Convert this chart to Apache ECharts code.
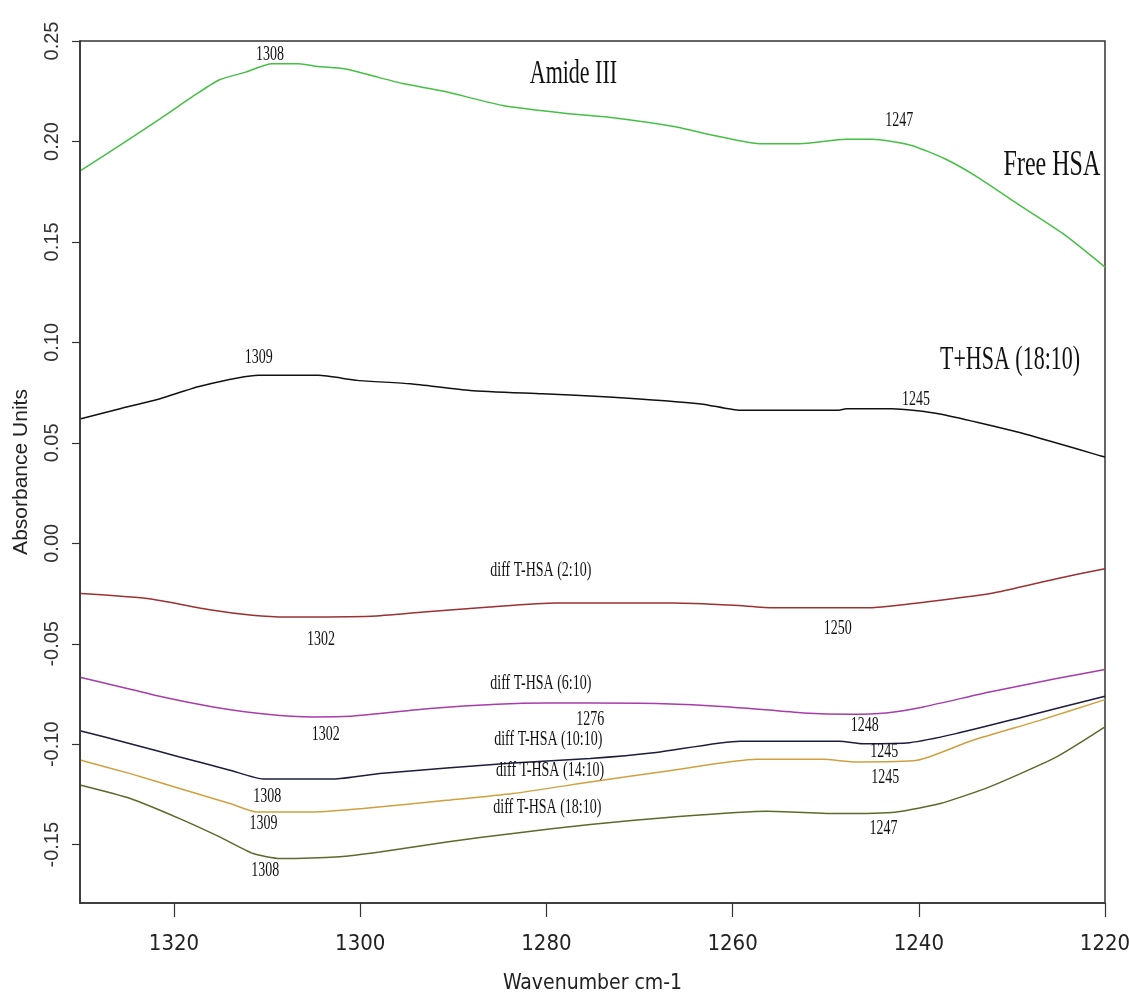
<!DOCTYPE html>
<html><head><meta charset="utf-8">
<script src="https://cdn.jsdelivr.net/npm/echarts@6/dist/echarts.min.js"></script>
<style>html,body{margin:0;padding:0;background:#fff;overflow:hidden}#c{width:1129px;height:1001px}</style>
</head><body><div id="c"></div>
<script>
// ---- Data (wavenumber cm-1, absorbance) ----
const xTicks = [1320, 1300, 1280, 1260, 1240, 1220];
const yTicks = [-0.15, -0.10, -0.05, 0.00, 0.05, 0.10, 0.15, 0.20, 0.25];

const freeHSA = [[1330.0,0.1856],[1327.2,0.1939],[1321.5,0.2113],[1317.3,0.2245],[1315.1,0.2307],[1312.3,0.2345],[1309.5,0.2387],[1306.6,0.2387],[1304.5,0.2373],[1301.7,0.2362],[1298.8,0.2328],[1295.3,0.2287],[1291.0,0.2250],[1284.7,0.2179],[1277.6,0.2138],[1273.3,0.2121],[1266.3,0.2075],[1262.0,0.2030],[1257.1,0.1989],[1252.8,0.1989],[1247.8,0.2011],[1245.0,0.2011],[1240.8,0.1980],[1237.2,0.1914],[1233.7,0.1823],[1229.4,0.1690],[1224.5,0.1541],[1220.0,0.1375]];
const tHSA1810 = [[1330.0,0.0620],[1325.8,0.0670],[1321.5,0.0720],[1317.3,0.0781],[1310.9,0.0836],[1304.5,0.0836],[1300.3,0.0811],[1294.6,0.0794],[1288.2,0.0761],[1280.4,0.0744],[1273.3,0.0728],[1263.4,0.0694],[1259.2,0.0662],[1248.6,0.0662],[1247.8,0.0670],[1242.9,0.0670],[1237.9,0.0645],[1229.4,0.0554],[1220.0,0.0429]];
const diff210 = [[1330.0,-0.0250],[1322.9,-0.0275],[1315.8,-0.0333],[1311.6,-0.0358],[1308.0,-0.0367],[1298.8,-0.0363],[1293.2,-0.0342],[1286.1,-0.0317],[1279.0,-0.0297],[1266.3,-0.0297],[1259.9,-0.0308],[1255.6,-0.0320],[1245.0,-0.0320],[1240.1,-0.0297],[1232.3,-0.0250],[1225.2,-0.0176],[1220.0,-0.0126]];
const diff610 = [[1330.0,-0.0668],[1326.5,-0.0706],[1321.2,-0.0765],[1315.8,-0.0814],[1310.0,-0.0851],[1305.0,-0.0864],[1301.1,-0.0861],[1297.9,-0.0847],[1292.5,-0.0822],[1285.3,-0.0801],[1280.0,-0.0795],[1275.3,-0.0795],[1268.2,-0.0797],[1260.3,-0.0814],[1252.4,-0.0844],[1247.4,-0.0851],[1243.5,-0.0844],[1239.5,-0.0814],[1232.4,-0.0740],[1225.2,-0.0673],[1220.0,-0.0628]];
const diff1010 = [[1330.0,-0.0934],[1324.7,-0.0997],[1319.4,-0.1063],[1314.0,-0.1129],[1310.4,-0.1173],[1302.9,-0.1173],[1297.9,-0.1146],[1290.7,-0.1118],[1283.6,-0.1093],[1275.3,-0.1071],[1268.2,-0.1041],[1259.2,-0.0985],[1248.5,-0.0985],[1246.0,-0.0997],[1241.0,-0.0992],[1236.0,-0.0947],[1228.8,-0.0864],[1220.0,-0.0761]];
const diff1410 = [[1330.0,-0.1080],[1324.7,-0.1146],[1319.4,-0.1220],[1314.0,-0.1295],[1311.1,-0.1337],[1305.0,-0.1337],[1299.7,-0.1320],[1290.7,-0.1279],[1283.6,-0.1245],[1275.3,-0.1188],[1266.4,-0.1129],[1257.4,-0.1075],[1250.3,-0.1075],[1246.7,-0.1088],[1240.2,-0.1080],[1234.2,-0.0980],[1227.0,-0.0881],[1220.0,-0.0778]];
const diff1810 = [[1330.0,-0.1204],[1324.7,-0.1270],[1319.4,-0.1370],[1315.1,-0.1461],[1311.5,-0.1544],[1308.6,-0.1569],[1302.2,-0.1560],[1297.9,-0.1536],[1290.7,-0.1486],[1283.6,-0.1444],[1275.3,-0.1399],[1266.4,-0.1362],[1256.3,-0.1333],[1248.5,-0.1345],[1242.4,-0.1337],[1237.7,-0.1295],[1232.4,-0.1212],[1225.2,-0.1063],[1220.0,-0.0914]];

// annotations: [wavenumber, absorbance, text, kind]
const annotations = [
  [1309.7, 0.2433, '1308', 'num'],
  [1277.1, 0.2333, 'Amide III', 'title'],
  [1242.1, 0.2104, '1247', 'num'],
  [1225.7, 0.1881, 'Free HSA', 'titleL'],
  [1310.9, 0.0925, '1309', 'num'],
  [1230.2, 0.0910, 'T+HSA (18:10)', 'title'],
  [1240.3, 0.0716, '1245', 'num'],
  [1280.6, -0.0134, 'diff T-HSA (2:10)', 'diff'],
  [1304.2, -0.0478, '1302', 'num'],
  [1248.7, -0.0423, '1250', 'num'],
  [1280.6, -0.0697, 'diff T-HSA (6:10)', 'diff'],
  [1303.7, -0.0950, '1302', 'num'],
  [1275.3, -0.0876, '1276', 'num'],
  [1245.8, -0.0905, '1248', 'num'],
  [1279.8, -0.0975, 'diff T-HSA (10:10)', 'diff'],
  [1310.0, -0.1259, '1308', 'num'],
  [1243.7, -0.1035, '1245', 'num'],
  [1279.6, -0.1129, 'diff T-HSA (14:10)', 'diff'],
  [1310.4, -0.1393, '1309', 'num'],
  [1243.6, -0.1164, '1245', 'num'],
  [1279.9, -0.1313, 'diff T-HSA (18:10)', 'diff'],
  [1310.2, -0.1627, '1308', 'num'],
  [1243.8, -0.1418, '1247', 'num']
];

// ---- Styles ----
const SERIF = '"Liberation Serif", "Times New Roman", serif';
const SANS = '"Liberation Sans", Arial, sans-serif';
const NARROW = '"Liberation Sans Narrow", "DejaVu Sans Condensed", "Liberation Sans", Arial, sans-serif';
const textStyles = {
  num:    { size: 14, sy: 1.55, weight: 'normal' },
  diff:   { size: 14, sy: 1.5,  weight: 'normal' },
  title:  { size: 22, sy: 1.5,  weight: 'normal' },
  titleL: { size: 24, sy: 1.5,  weight: 'normal' }
};

const seriesDefs = [
  { name: 'Free HSA', data: freeHSA, color: '#45c045' },
  { name: 'T+HSA (18:10)', data: tHSA1810, color: '#111111' },
  { name: 'diff T-HSA (2:10)', data: diff210, color: '#9b3131' },
  { name: 'diff T-HSA (6:10)', data: diff610, color: '#a83ca8' },
  { name: 'diff T-HSA (10:10)', data: diff1010, color: '#1c1c3c' },
  { name: 'diff T-HSA (14:10)', data: diff1410, color: '#d0a040' },
  { name: 'diff T-HSA (18:10)', data: diff1810, color: '#5a6b2a' }
];

const chart = echarts.init(document.getElementById('c'), null, { renderer: 'canvas' });
const option = {
  animation: false,
  backgroundColor: '#ffffff',
  grid: { left: 80, right: 24, top: 41, bottom: 98, show: true, borderColor: '#333', borderWidth: 1.5,
          containLabel: false, outerBoundsMode: 'none' },
  xAxis: {
    type: 'value', inverse: true, min: 1220, max: 1330.1, interval: 20,
    name: 'Wavenumber cm-1', nameLocation: 'middle', nameGap: 70,
    nameTextStyle: { fontFamily: NARROW, fontSize: 21, color: '#222' },
    axisLine: { show: true, onZero: false, lineStyle: { color: '#333', width: 1.5 } },
    axisTick: { show: true, length: 14, customValues: xTicks, lineStyle: { color: '#333', width: 1.2 } },
    axisLabel: { customValues: xTicks, margin: 30, fontFamily: NARROW, fontSize: 22, color: '#222',
      formatter: v => String(Math.round(v)) },
    splitLine: { show: false }
  },
  yAxis: {
    type: 'value', min: -0.179, max: 0.25, interval: 0.05,
    name: 'Absorbance Units', nameLocation: 'middle', nameGap: 48,
    nameTextStyle: { fontFamily: SANS, fontSize: 21, color: '#222' },
    axisLine: { show: true, onZero: false, lineStyle: { color: '#333', width: 1.5 } },
    axisTick: { show: true, length: 8, customValues: yTicks, lineStyle: { color: '#333', width: 1.2 } },
    axisLabel: { customValues: yTicks, rotate: 90, margin: 18, fontFamily: SANS, fontSize: 20, color: '#333',
      formatter: v => Number(v).toFixed(2) },
    splitLine: { show: false }
  },
  series: seriesDefs.map(s => ({
    type: 'line', name: s.name, data: s.data, showSymbol: false, smooth: 0.2,
    lineStyle: { color: s.color, width: 1.5 }, itemStyle: { color: s.color }, silent: true
  }))
};
chart.setOption(option);

const graphics = annotations.map(a => {
  const p = chart.convertToPixel({ gridIndex: 0 }, [a[0], a[1]]);
  const st = textStyles[a[3]];
  return {
    type: 'text', x: p[0], y: p[1], scaleY: st.sy, silent: true, z: 100,
    style: { text: a[2], x: 0, y: 0, align: 'center', verticalAlign: 'middle',
      fontFamily: SERIF, fontSize: st.size, fontWeight: st.weight, fill: '#111' }
  };
});
chart.setOption({ graphic: graphics });
</script>
</body></html>
